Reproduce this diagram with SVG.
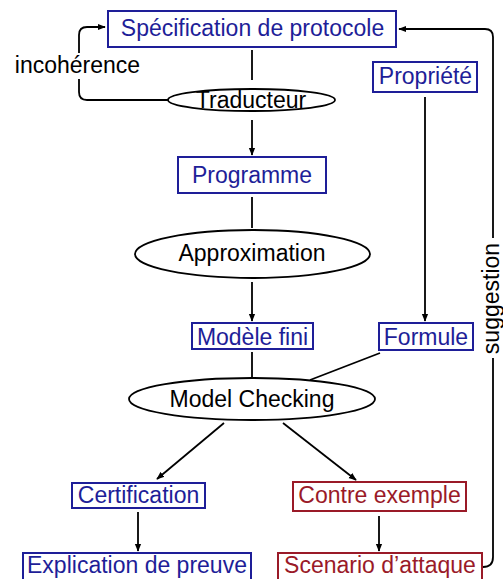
<svg xmlns="http://www.w3.org/2000/svg" width="503" height="579" viewBox="0 0 503 579">
<defs>
<marker id="ah" viewBox="0 0 10 10" refX="9" refY="5" markerWidth="8" markerHeight="8" markerUnits="userSpaceOnUse" orient="auto">
<path d="M0,1 L10,5 L0,9 Z" fill="#000"/>
</marker>
<style>
text{font-family:"Liberation Sans",Arial,sans-serif;font-size:23px;text-anchor:middle}
.b rect{fill:#fff;stroke:#1e1e98;stroke-width:2}
.b text{fill:#1e1e98}
.r rect{fill:#fff;stroke:#9a1a28;stroke-width:2}
.r text{fill:#9a1a28}
.e ellipse{fill:#fff;stroke:#000;stroke-width:1.8}
.e text{fill:#000}
.c path{fill:none;stroke:#000;stroke-width:1.8}
.c .a{marker-end:url(#ah)}
.lbl rect{fill:#fff}
</style>
</defs>
<rect width="503" height="579" fill="#fff"/>
<g id="connectors" class="c">
<path d="M252,50 L252,80"/>
<path class="a" d="M252,120 L252,155"/>
<path d="M252,197 L252,228"/>
<path class="a" d="M252,282 L252,321"/>
<path class="a" d="M425,97 L425,321"/>
<path d="M252,352 L252,377"/>
<path d="M380,353 L310,380"/>
<path class="a" d="M224,423 L157,479"/>
<path class="a" d="M283,423 L356,480"/>
<path class="a" d="M138,512 L138,551"/>
<path class="a" d="M379,516 L379,551"/>
<path class="a" d="M168,100 L87,100 Q79,100 79,92 L79,35 Q79,27 87,27 L105,27"/>
<path class="a" d="M483,567 Q493,567 493,557 L493,37 Q493,29 485,29 L399,29"/>
</g>
<g id="label-incoherence" class="lbl">
<rect x="13" y="53" width="130" height="26"/>
<text x="77.5" y="73">incohérence</text>
</g>
<g id="label-suggestion" class="lbl">
<rect x="481" y="238" width="22" height="120"/>
<text transform="translate(499,298.5) rotate(-90)">suggestion</text>
</g>
<g id="specification" class="b">
<rect x="108" y="11" width="288" height="36"/>
<text x="252.5" y="36">Spécification de protocole</text>
</g>
<g id="propriete" class="b">
<rect x="373" y="62" width="104" height="30"/>
<text x="425.5" y="84">Propriété</text>
</g>
<g id="traducteur" class="e">
<ellipse cx="251.5" cy="100" rx="83.5" ry="11"/>
<text x="251" y="108">Traducteur</text>
</g>
<g id="programme" class="b">
<rect x="178" y="157" width="148" height="36"/>
<text x="252" y="183">Programme</text>
</g>
<g id="approximation" class="e">
<ellipse cx="252.5" cy="254" rx="117.5" ry="24"/>
<text x="252" y="261">Approximation</text>
</g>
<g id="modele-fini" class="b">
<rect x="192" y="323" width="121" height="26"/>
<text x="252.5" y="345">Modèle fini</text>
</g>
<g id="formule" class="b">
<rect x="379" y="323" width="94" height="27"/>
<text x="426" y="345">Formule</text>
</g>
<g id="model-checking" class="e">
<ellipse cx="252" cy="399" rx="123" ry="21"/>
<text x="252" y="407">Model Checking</text>
</g>
<g id="certification" class="b">
<rect x="72" y="483" width="133" height="25"/>
<text x="138.5" y="503">Certification</text>
</g>
<g id="contre-exemple" class="r">
<rect x="293" y="482" width="173" height="29"/>
<text x="379.5" y="503">Contre exemple</text>
</g>
<g id="explication" class="b">
<rect x="23" y="553" width="228" height="30"/>
<text x="137" y="573">Explication de preuve</text>
</g>
<g id="scenario" class="r">
<rect x="278" y="553" width="204" height="30"/>
<text x="380" y="573">Scenario d’attaque</text>
</g>
</svg>
